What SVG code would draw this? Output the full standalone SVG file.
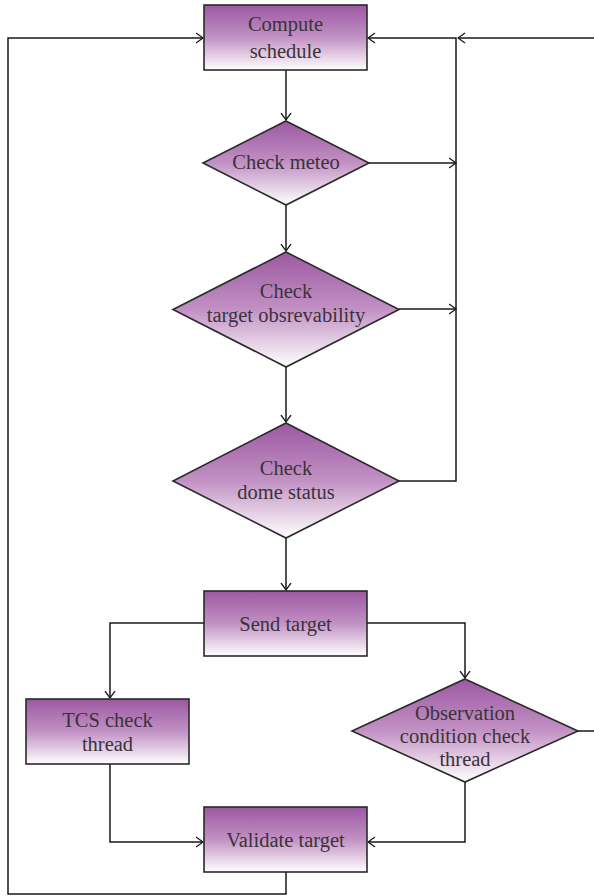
<svg xmlns="http://www.w3.org/2000/svg" width="594" height="896" viewBox="0 0 594 896">
<defs>
<linearGradient id="g" x1="0" y1="0" x2="0" y2="1">
<stop offset="0" stop-color="#9c58a2"/>
<stop offset="0.5" stop-color="#c291c4"/>
<stop offset="1" stop-color="#ffffff"/>
</linearGradient>
<marker id="a" markerWidth="9" markerHeight="12" refX="7.5" refY="6" orient="auto" markerUnits="userSpaceOnUse">
<path d="M0.5,1 L7.5,6 L0.5,11" fill="none" stroke="#1a1a1a" stroke-width="1.3"/>
</marker>
<style>
.n{fill:url(#g);stroke:#2a2a2a;stroke-width:1.6}
.t{font-family:"Liberation Serif","Times New Roman",serif;font-size:20.5px;fill:#3a3338;text-anchor:middle}
.c{fill:none;stroke:#1a1a1a;stroke-width:1.5}
</style>
</defs>
<g id="connectors">
<path class="c" d="M286,70 V120" marker-end="url(#a)"/>
<path class="c" d="M286,205 V251" marker-end="url(#a)"/>
<path class="c" d="M286,367 V422" marker-end="url(#a)"/>
<path class="c" d="M286,538 V590" marker-end="url(#a)"/>
<path class="c" d="M369,163 H456" marker-end="url(#a)"/>
<path class="c" d="M399,309 H456" marker-end="url(#a)"/>
<path class="c" d="M399,481 H456 V38 H368" marker-end="url(#a)"/>
<path class="c" d="M594,38 H458" marker-end="url(#a)"/>
<path class="c" d="M578,731 H594"/>
<path class="c" d="M204,623 H110 V698" marker-end="url(#a)"/>
<path class="c" d="M367,623 H465 V678" marker-end="url(#a)"/>
<path class="c" d="M110,764 V842 H203" marker-end="url(#a)"/>
<path class="c" d="M465,782 V842 H368" marker-end="url(#a)"/>
<path class="c" d="M286,872 V894 H8 V38 H203" marker-end="url(#a)"/>
</g>
<g id="compute-schedule">
<rect class="n" x="204" y="5" width="163" height="65"/>
<text class="t" x="285.5" y="31">Compute</text>
<text class="t" x="285.5" y="58">schedule</text>
</g>
<g id="check-meteo">
<polygon class="n" points="286,121 369,163 286,205 203,163"/>
<text class="t" x="286" y="169">Check meteo</text>
</g>
<g id="check-target">
<polygon class="n" points="286,252 399,309.5 286,367 173,309.5"/>
<text class="t" x="286" y="298">Check</text>
<text class="t" x="286" y="322">target obsrevability</text>
</g>
<g id="check-dome">
<polygon class="n" points="286,423 399,481 286,538 173,481"/>
<text class="t" x="286" y="475">Check</text>
<text class="t" x="286" y="499">dome status</text>
</g>
<g id="send-target">
<rect class="n" x="204" y="591" width="163" height="65"/>
<text class="t" x="285.5" y="631">Send target</text>
</g>
<g id="tcs-check">
<rect class="n" x="26" y="699" width="163" height="65"/>
<text class="t" x="107.5" y="727">TCS check</text>
<text class="t" x="107.5" y="751">thread</text>
</g>
<g id="observation-check">
<polygon class="n" points="465,679 578,731 465,782 352,731"/>
<text class="t" x="465" y="720">Observation</text>
<text class="t" x="465" y="743">condition check</text>
<text class="t" x="465" y="766">thread</text>
</g>
<g id="validate-target">
<rect class="n" x="204" y="807" width="163" height="65"/>
<text class="t" x="285.5" y="847">Validate target</text>
</g>
</svg>
